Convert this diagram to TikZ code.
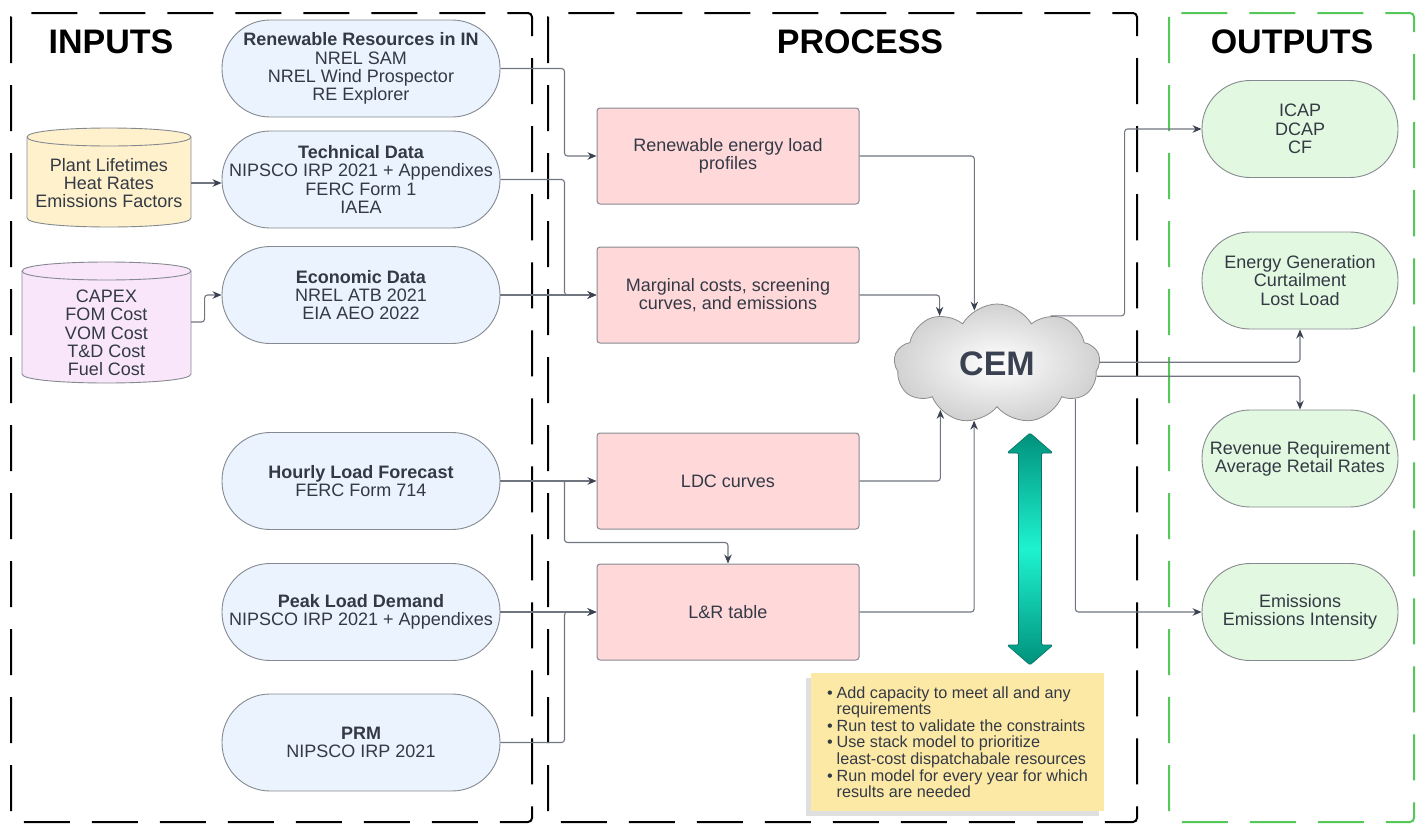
\documentclass[tikz,border=0pt]{standalone}
\usepackage{fontspec}
\setmainfont{Liberation Sans}
\usetikzlibrary{shapes.misc,shapes.symbols,shadows,arrows.meta,calc}
\definecolor{txt}{HTML}{333A45}
\definecolor{sblue}{HTML}{EAF3FE}
\definecolor{ppink}{HTML}{FFD8DA}
\definecolor{cyly}{HTML}{FFF1CC}
\definecolor{cylp}{HTML}{F9E6FB}
\definecolor{ogreen}{HTML}{E3F8E0}
\definecolor{notey}{HTML}{FDE9A6}
\definecolor{dgreen}{HTML}{55C85A}
\definecolor{lgray}{HTML}{70757F}
\definecolor{hgray}{HTML}{3A4150}
\definecolor{bgray}{HTML}{858A90}
\definecolor{tealD}{HTML}{00917C}
\definecolor{tealL}{HTML}{1EF3CF}
\definecolor{tealB}{HTML}{0A7264}
\begin{document}
\begin{tikzpicture}[x=1pt,y=-1pt,
  region/.style={line width=2pt, dash pattern=on 46pt off 22pt, rounded corners=4pt},
  ttl/.style={font=\fontsize{34}{34}\selectfont\bfseries, text=black},
  stad/.style={rectangle, rounded corners=48pt, draw=bgray, line width=0.9pt, fill=sblue, minimum width=278pt, minimum height=97pt, inner sep=0pt, align=center, text=txt, font=\fontsize{18}{18.3}\selectfont},
  outn/.style={stad, fill=ogreen, minimum width=196pt},
  pbox/.style={rectangle, rounded corners=3pt, draw=bgray, line width=1pt, fill=ppink, minimum width=262pt, minimum height=96pt, inner sep=0pt, align=center, text=txt, font=\fontsize{18}{18.3}\selectfont},
  cyltext/.style={align=center, text=txt, font=\fontsize{18}{18.3}\selectfont, inner sep=0pt},
  cylshape/.style={draw=bgray, line width=0.9pt},
  conn/.style={draw=lgray, line width=1.1pt, rounded corners=3pt, -{Stealth[length=9pt,width=7.5pt,color=hgray]}},
  notebox/.style={fill=notey, minimum width=293pt, minimum height=138pt, inner xsep=10pt, inner ysep=0pt, align=left, text=txt, font=\fontsize{16.2}{16.6}\selectfont, drop shadow={shadow xshift=-5pt, shadow yshift=-5pt, opacity=0.25}}
]
\useasboundingbox (0,0) rectangle (1422,825);

% regions
\draw[region] (11,13) rectangle (532,822);
\draw[region] (548,13) rectangle (1137,822);
\draw[region, draw=dgreen] (1169,13) rectangle (1414,822);
\node[ttl] (tin) at (111,42) {INPUTS};
\node[ttl] (tpr) at (860,42) {PROCESS};
\node[ttl] (tout) at (1292,42) {OUTPUTS};

% cylinders
\path[cylshape, fill=cyly] (27,137) -- (27,218) .. controls (27,230) and (191,230) .. (191,218) -- (191,137) .. controls (191,125) and (27,125) .. (27,137) -- cycle;
\draw[cylshape] (27,137) .. controls (27,149) and (191,149) .. (191,137);
\node[cyltext, minimum width=164pt] (ycyl) at (109,183) {Plant Lifetimes\\Heat Rates\\Emissions Factors};

\path[cylshape, fill=cylp] (22,271) -- (22,374) .. controls (22,386) and (191,386) .. (191,374) -- (191,271) .. controls (191,259) and (22,259) .. (22,271) -- cycle;
\draw[cylshape] (22,271) .. controls (22,283) and (191,283) .. (191,271);
\node[cyltext, minimum width=169pt] (pcyl) at (106.5,333) {CAPEX\\FOM Cost\\VOM Cost\\T\&D Cost\\Fuel Cost};

% input stadiums
\node[stad] (rres) at (361,68.5) {\textbf{Renewable Resources in IN}\\NREL SAM\\NREL Wind Prospector\\RE Explorer};
\node[stad] (tech) at (361,179.5) {\textbf{Technical Data}\\NIPSCO IRP 2021 + Appendixes\\FERC Form 1\\IAEA};
\node[stad] (econ) at (361,295) {\textbf{Economic Data}\\NREL ATB 2021\\EIA AEO 2022};
\node[stad] (hour) at (361,481) {\textbf{Hourly Load Forecast}\\FERC Form 714};
\node[stad] (peak) at (361,612) {\textbf{Peak Load Demand}\\NIPSCO IRP 2021 + Appendixes};
\node[stad] (prm) at (361,742.5) {\textbf{PRM}\\NIPSCO IRP 2021};

% process boxes
\node[pbox] (ren) at (728,156) {Renewable energy load\\profiles};
\node[pbox] (mc) at (728,295) {Marginal costs, screening\\curves, and emissions};
\node[pbox] (ldc) at (728,481) {LDC curves};
\node[pbox] (lr) at (728,612) {L\&R table};

% cloud
\node[cloud, cloud puffs=9, cloud puff arc=120, aspect=1.75, minimum width=206pt, minimum height=120pt, draw=black!45, line width=0.8pt, inner color=white, outer color=black!18, font=\fontsize{34}{34}\selectfont\bfseries, text=hgray] (cem) at (997,364) {CEM};

% outputs
\node[outn] (icap) at (1300,129) {ICAP\\DCAP\\CF};
\node[outn] (egen) at (1300,280.5) {Energy Generation\\Curtailment\\Lost Load};
\node[outn] (rev) at (1300,458.5) {Revenue Requirement\\Average Retail Rates};
\node[outn] (emis) at (1300,612) {Emissions\\Emissions Intensity};

% connectors inputs
\draw[conn] (ycyl.east) -- (ycyl.east -| tech.west);
\draw[conn] ([yshift=11pt]pcyl.east) -| ([xshift=-17pt]econ.west) -- (econ.west);
\draw[conn] (rres.east) -| ([xshift=-32pt]ren.west) -- (ren.west);
\draw[conn] (tech.east) -| ([xshift=-32pt]mc.west) -- (mc.west);
\draw[conn] (econ.east) -- (mc.west);
\draw[conn] (hour.east) -- (ldc.west);
\draw[conn] ([xshift=-32pt]ldc.west) |- ($(lr.north)+(0,-21)$) -- (lr.north);
\draw[conn] (peak.east) -- (lr.west);
\draw[conn] (prm.east) -| ([xshift=-32pt]lr.west) -- (lr.west);

% process to cloud
\draw[conn] (ren.east) -| (cem.113);
\draw[conn] (mc.east) -| (cem.140);
\draw[conn] (ldc.east) -| (cem.219);
\draw[conn] (lr.east) -| (cem.248);

% cloud to outputs
\draw[conn] (cem.42) -| ([xshift=-77pt]icap.west) -- (icap.west);
\draw[conn] (cem.1) -| (egen.south);
\draw[conn] (cem.353) -| (rev.north);
\draw[conn] (cem.336) |- (emis.west);

% teal double arrow
\shade[top color=tealD, bottom color=tealD, middle color=tealL, draw=tealB, line width=0.6pt, rounded corners=1.5pt]
  (1030,433) -- (1053,453) -- (1041.5,453) -- (1041.5,645) -- (1053,645) -- (1030,665) -- (1007,645) -- (1018.5,645) -- (1018.5,453) -- (1007,453) -- cycle;

% note
\node[notebox] (note) at (957.5,742) {%
\makebox[9.5pt][l]{\textbullet}Add capacity to meet all and any\\
\hspace*{9.5pt}requirements\\
\makebox[9.5pt][l]{\textbullet}Run test to validate the constraints\\
\makebox[9.5pt][l]{\textbullet}Use stack model to prioritize\\
\hspace*{9.5pt}least-cost dispatchabale resources\\
\makebox[9.5pt][l]{\textbullet}Run model for every year for which\\
\hspace*{9.5pt}results are needed};
\end{tikzpicture}
\end{document}
